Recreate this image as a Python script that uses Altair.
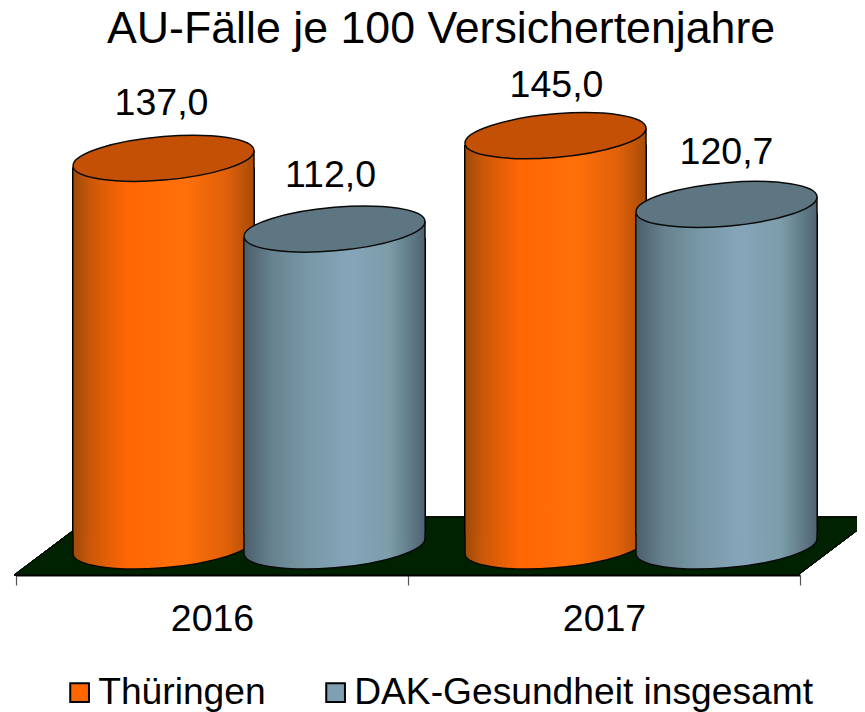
import altair as alt
import pandas as pd

years = ["2016", "2017"]
series = ["Thüringen", "DAK-Gesundheit insgesamt"]
values_th = [137.0, 145.0]
values_dak = [112.0, 120.7]
labels_th = ["137,0", "145,0"]
labels_dak = ["112,0", "120,7"]
title = "AU-Fälle je 100 Versichertenjahre"

FONT = "Liberation Sans"
legend_colors = ["#FF6600", "#7F9FB2"]
top_colors = ["#C35004", "#5E7682"]


def grad(stops):
    return alt.Gradient(
        gradient="linear", x1=0, x2=1, y1=0, y2=0,
        stops=[alt.GradientStop(offset=o, color=c) for o, c in stops],
    )


gradients = [
    grad([(0, "#9E4A0A"), (0.1, "#CC5808"), (0.3, "#FF6604"), (0.62, "#FF700A"), (0.85, "#E0600A"), (1, "#A84C08")]),
    grad([(0, "#4B5E6C"), (0.15, "#67818E"), (0.35, "#7898A6"), (0.58, "#86A5BA"), (0.8, "#7C9DA9"), (1, "#4F6473")]),
]

rows = []
for i, y in enumerate(years):
    rows.append(dict(year=y, series=series[0], value=values_th[i], base=0.0, label=labels_th[i]))
    rows.append(dict(year=y, series=series[1], value=values_dak[i], base=0.0, label=labels_dak[i]))
df = pd.DataFrame(rows)

A, B, HW, TILT = 90.8, 21.7, 90.5, 7.5
TOP = f"M-{HW},{TILT} A{A},{B} -5 1 1 {HW},-{TILT} A{A},{B} -5 1 1 -{HW},{TILT} Z"
CAP = f"M{HW},-{TILT} L{HW},10 L-{HW},10 Z"
CAP_EDGE = f"M{HW},-{TILT} L{HW},10"
BOTTOM = f"M-{HW},{TILT} A{A},{B} -5 0 0 {HW},-{TILT} L{HW},-12 L-{HW},-12 Z"
BOTTOM_EDGE = f"M-{HW},-12 L-{HW},{TILT} A{A},{B} -5 0 0 {HW},-{TILT} L{HW},-12"
GROUND = "M-2,0 L782,0 L859,-58 L75,-58 Z"

PLOT_W, PLOT_H = 784, 507
y_scale = alt.Scale(domain=[-10.247, 168.9], nice=False, zero=False)
X = alt.X(
    "year:N",
    scale=alt.Scale(domain=years, paddingInner=0, paddingOuter=0),
    axis=alt.Axis(
        title=None, labelAngle=0, labelFontSize=37.5, labelFont=FONT, labelColor="#000000",
        tickBand="extent", tickSize=10, tickColor="#555555", tickWidth=1.2,
        domainColor="#111111", domainWidth=2, labelPadding=15, grid=False,
    ),
)
XO = alt.XOffset("series:N", scale=alt.Scale(type="band", domain=series, range=[62, 404], paddingInner=0, paddingOuter=0))
Yv = alt.Y("value:Q", scale=y_scale, axis=None)
Yb = alt.Y("base:Q", scale=y_scale, axis=None)

ground = alt.Chart(df).mark_point(
    shape=GROUND, size=4, filled=True, fill="#012201", stroke="#000000", strokeWidth=1, opacity=1
).encode(x=alt.value(0), y=alt.value(PLOT_H))

layers = [ground]

legend_layer = alt.Chart(df).mark_bar(size=150, yOffset=30, y2Offset=-30).encode(
    x=X, xOffset=XO, y=Yv, y2="base:Q",
    color=alt.Color(
        "series:N",
        scale=alt.Scale(domain=series, range=legend_colors),
        legend=alt.Legend(
            title=None, orient="none", legendX=45, legendY=606, direction="horizontal", columns=2,
            symbolType="square", symbolSize=350, symbolStrokeColor="#000000", symbolStrokeWidth=2,
            labelFont=FONT, labelFontSize=37.2, labelColor="#000000", labelOffset=0,
            columnPadding=51, labelLimit=600, symbolOpacity=1,
        ),
    ),
)
layers.append(legend_layer)

for i, s in enumerate(series):
    d = df[df.series == s]
    base = alt.Chart(d)
    sym = dict(size=4, opacity=1)
    layers += [
        base.mark_bar(size=183, color="#000000", yOffset=9, y2Offset=-11).encode(x=X, xOffset=XO, y=Yv, y2="base:Q"),
        base.mark_bar(size=180, fill=gradients[i], yOffset=9, y2Offset=-11).encode(x=X, xOffset=XO, y=Yv, y2="base:Q"),
        base.mark_point(shape=BOTTOM, filled=True, fill=gradients[i], strokeWidth=0, **sym).encode(x=X, xOffset=XO, y=Yb),
        base.mark_point(shape=BOTTOM_EDGE, filled=False, fill=None, stroke="#0A0A0A", strokeWidth=1.5, **sym).encode(x=X, xOffset=XO, y=Yb),
        base.mark_point(shape=CAP, filled=True, fill=gradients[i], strokeWidth=0, **sym).encode(x=X, xOffset=XO, y=Yv),
        base.mark_point(shape=CAP_EDGE, filled=False, fill=None, stroke="#0A0A0A", strokeWidth=1.5, **sym).encode(x=X, xOffset=XO, y=Yv),
        base.mark_point(shape=TOP, filled=True, fill=top_colors[i], stroke="#0A0A0A", strokeWidth=1.5, **sym).encode(x=X, xOffset=XO, y=Yv),
    ]

label_dx = {"137,0": -2, "112,0": -4, "145,0": 1, "120,7": 0}
label_dy = {"137,0": -54, "112,0": -53, "145,0": -50, "120,7": -51}
for lab, dx in label_dx.items():
    layers.append(
        alt.Chart(df[df.label == lab]).mark_text(
            font=FONT, fontSize=37.5, color="#000000", dx=dx, dy=label_dy[lab], baseline="middle", align="center"
        ).encode(x=X, xOffset=XO, y=Yv, text="label:N")
    )

chart = alt.layer(*layers).properties(
    width=PLOT_W,
    height=PLOT_H,
    title=alt.TitleParams(title, font=FONT, fontSize=44.7, fontWeight="normal", color="#000000",
                          anchor="start", frame="group", dx=91, offset=14, limit=800),
    autosize=alt.AutoSizeParams(type="none"),
    padding={"left": 8, "top": 60, "right": 57, "bottom": 137},
).configure_view(stroke=None)

chart.save("out.html", embed_options={"renderer": "svg", "actions": False})
